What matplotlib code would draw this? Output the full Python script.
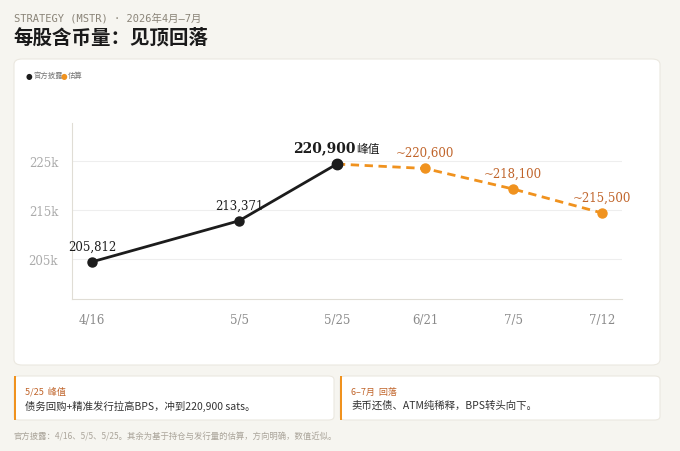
import matplotlib
matplotlib.use("Agg")
import matplotlib.pyplot as plt
from matplotlib.patches import FancyBboxPatch, Rectangle

CJK = ['Noto Sans CJK SC', 'DejaVu Sans']
plt.rcParams['font.family'] = CJK

dates = ["4/16", "5/5", "5/25", "6/21", "7/5", "7/12"]
x_pos = [0.0, 1.67, 2.78, 3.78, 4.78, 5.79]
# values as plotted against the chart's own y-axis
official = [204400, 212800, 224400]
estimate = [224400, 223500, 219300, 214400]
labels = ["205,812", "213,371", "220,900", "~220,600", "~218,100", "~215,500"]
ytick_vals = [205000, 215000, 225000]
ytick_labels = ["205k", "215k", "225k"]

BG = "#f6f5f0"
DARK = "#1c1c1c"
ORANGE = "#f0921e"
ORANGE_T = "#c0642a"

fig = plt.figure(figsize=(6.8, 4.52), dpi=100, facecolor=BG)
W, H = 680, 452
def fx(px): return px / W
def fy(py): return 1 - py / H

fig.text(fx(14), fy(18), "STRATEGY (MSTR) · 2026年4月—7月", fontsize=7.5, color="#8a8478",
         family=['DejaVu Sans Mono', 'Noto Sans CJK SC'], va='center')
fig.text(fx(13), fy(38), "每股含币量：见顶回落", fontsize=14, color="#1a1a1a",
         fontweight='bold', va='center')

fig.patches.append(FancyBboxPatch((fx(14), fy(366)), fx(646), (366-60)/H,
    boxstyle="round,pad=0,rounding_size=0.012", transform=fig.transFigure,
    facecolor="white", edgecolor="#ebe8e0", lw=0.8, zorder=0))
# legend
fig.text(fx(26), fy(76), "●", fontsize=5.5, color=DARK, va='center', family='DejaVu Sans')
fig.text(fx(33), fy(76), "官方披露", fontsize=5.3, color="#777", va='center')
fig.text(fx(61), fy(76), "●", fontsize=5.5, color=ORANGE, va='center', family='DejaVu Sans')
fig.text(fx(68), fy(76), "估算", fontsize=5.3, color="#777", va='center')

ax = fig.add_axes([fx(72), fy(300), fx(622-72), (300-124)/H])
ax.set_zorder(5)
ax.patch.set_alpha(0)
ax.set_xlim(-0.227, 6.017)
ax.set_ylim(196800, 232800)
ax.plot(x_pos[:3], official, color=DARK, lw=2, marker='o', ms=6.5, zorder=3)
ax.plot(x_pos[2:], estimate, color=ORANGE, lw=2, ls=(0, (3, 2)), marker='o', ms=6.5, zorder=2)
ax.plot(x_pos[2], official[2], 'o', color=DARK, ms=7.5, zorder=4)
vals = official + estimate[1:]
for i, (x, v, t) in enumerate(zip(x_pos, vals, labels)):
    col = DARK if i < 3 else ORANGE_T
    if i == 2:
        ax.annotate(t, (x, v), xytext=(-9, 9), textcoords='offset points', ha='center',
                    fontsize=10, fontweight='bold', family='DejaVu Serif', color=col)
        ax.annotate("峰值", (x, v), xytext=(14, 9), textcoords='offset points', ha='left',
                    fontsize=8.5, color=col)
    else:
        ax.annotate(t, (x, v), xytext=(0, 9), textcoords='offset points', ha='center',
                    fontsize=8.5, family='DejaVu Serif', color=col)
ax.set_xticks(x_pos)
ax.set_xticklabels(dates, family='DejaVu Serif', fontsize=8.5, color="#8a8a8a")
ax.set_yticks(ytick_vals)
ax.set_yticklabels(ytick_labels, family='DejaVu Serif', fontsize=8.5, color="#aaaaaa")
ax.tick_params(length=0, pad=10)
ax.grid(axis='y', color="#eeeeee", lw=0.8)
ax.set_axisbelow(True)
for s in ['top', 'right']:
    ax.spines[s].set_visible(False)
for s in ['left', 'bottom']:
    ax.spines[s].set_color("#e0ddd5")

cards = [(14, 334, "5/25  峰值", "债务回购+精准发行拉高BPS，冲到220,900 sats。"),
         (340, 660, "6–7月  回落", "卖币还债、ATM纯稀释，BPS转头向下。")]
for x0, x1, head, body in cards:
    fig.patches.append(FancyBboxPatch((fx(x0), fy(421)), fx(x1-x0), 44/H,
        boxstyle="round,pad=0,rounding_size=0.008", transform=fig.transFigure,
        facecolor="white", edgecolor="#ebe8e0", lw=0.8))
    fig.patches.append(Rectangle((fx(x0), fy(421)), 2/W, 44/H, transform=fig.transFigure,
        facecolor=ORANGE, edgecolor='none'))
    fig.text(fx(x0+11), fy(392), head, fontsize=6.5, color=ORANGE_T, va='center')
    fig.text(fx(x0+11), fy(406), body, fontsize=7.5, color="#333", va='center')

fig.text(fx(13), fy(437), "官方披露：4/16、5/5、5/25。其余为基于持仓与发行量的估算，方向明确，数值近似。",
         fontsize=6, color="#aaa49a", va='center')

fig.savefig("out.png", dpi=100, facecolor=BG)
